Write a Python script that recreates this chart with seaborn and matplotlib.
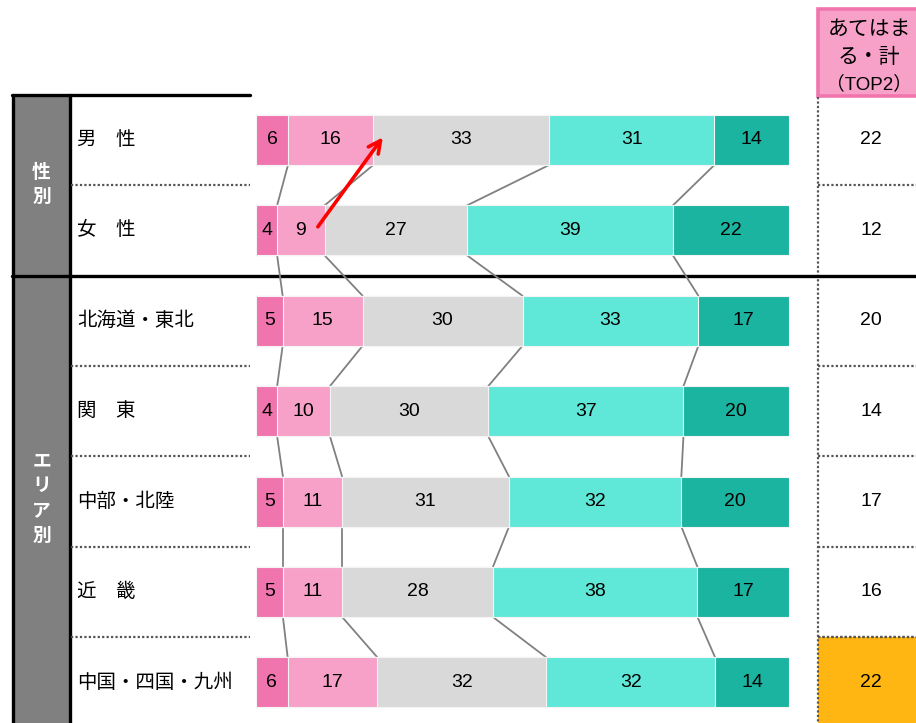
import matplotlib
matplotlib.use('Agg')
import matplotlib.pyplot as plt
from matplotlib.patches import Rectangle
import seaborn as sns
import numpy as np
import pandas as pd

# ---------------- data ----------------
categories = ['男　性', '女　性', '北海道・東北', '関　東', '中部・北陸', '近　畿', '中国・四国・九州']
groups = ['性別', 'エリア別']
group_sizes = [2, 5]
s1 = [6, 4, 5, 4, 5, 5, 6]
s2 = [16, 9, 15, 10, 11, 11, 17]
s3 = [33, 27, 30, 30, 31, 28, 32]
s4 = [31, 39, 33, 37, 32, 38, 32]
s5 = [14, 22, 17, 20, 20, 17, 14]
top2 = [22, 12, 20, 14, 17, 16, 22]
highlight = ['中国・四国・九州']
header_lines = ['あてはま', 'る・計', '（TOP2）']

# ---------------- style ----------------
sns.set_theme(style='white')
plt.rcParams['font.family'] = ['Liberation Sans', 'Noto Sans CJK JP', 'DejaVu Sans']
colors = ['#f075ae', '#f7a1c8', '#d9d9d9', '#5fe8d7', '#1ab4a0']

W, H = 916, 723
fig = plt.figure(figsize=(W / 100, H / 100), dpi=100)
bg = fig.add_axes([0, 0, 1, 1])
bg.set_xlim(0, W)
bg.set_ylim(H, 0)
bg.axis('off')

X0, X1 = 256, 789
Y0, DY = 140, 90.4


def ypix(u):
    return Y0 + DY * u


ax = fig.add_axes([X0 / W, 0, (X1 - X0) / W, 1])
ax.set_zorder(2)

vals = np.array([s1, s2, s3, s4, s5], float)
norm = vals / vals.sum(axis=0) * 100
cum = np.cumsum(norm, axis=0)
bar_h = 50 / DY

for k in range(4, -1, -1):
    df = pd.DataFrame({'cat': categories, 'v': cum[k]})
    sns.barplot(data=df, x='v', y='cat', orient='h', color=colors[k],
                width=bar_h, edgecolor='#f4f4f4', linewidth=0.8,
                saturation=1, errorbar=None, ax=ax)

n = len(categories)
ax.set_xlim(0, 100)
ax.set_ylim((H - Y0) / DY, -Y0 / DY)
ax.axis('off')

# segment labels
for k in range(5):
    for i in range(n):
        ax.text(cum[k][i] - norm[k][i] / 2, i, f'{int(vals[k][i])}',
                ha='center', va='center', fontsize=14, color='black')

# connector lines
for i in range(n - 1):
    for k in range(4):
        ax.plot([cum[k][i], cum[k][i + 1]], [i + bar_h / 2, i + 1 - bar_h / 2],
                color='#808080', lw=1.3, zorder=0.5)

# red arrow
ax.annotate('', xy=(23.8, -0.03), xytext=(11.6, 0.96),
            arrowprops=dict(arrowstyle='->', color='red', lw=2.6,
                            mutation_scale=22, shrinkA=0, shrinkB=0))

# ---------------- left table ----------------
top_y = 95
bg.add_patch(Rectangle((13, top_y), 57, H - top_y, fc='#808080', ec='none'))
bg.plot([13, 13], [top_y, H], color='black', lw=2.4)
bg.plot([70, 70], [top_y, H], color='black', lw=2.4)
bg.plot([12, 250], [top_y, top_y], color='black', lw=2.4)

start = 0
for g, size in zip(groups, group_sizes):
    y_top = top_y if start == 0 else ypix(start - 0.5)
    y_bot = min(ypix(start + size - 0.5), H)
    yc = (y_top + y_bot) / 2
    step = 25
    m = len(g)
    for j, ch in enumerate(g):
        bg.text(41.5, yc + (j - (m - 1) / 2) * step, ch, ha='center', va='center',
                fontsize=13.5, color='white', fontweight='bold')
    if start > 0:
        bg.plot([12, W], [y_top, y_top], color='black', lw=2.4, zorder=3)
    start += size

group_starts = np.cumsum([0] + group_sizes[:-1])
for i in range(1, n):
    if i in group_starts:
        continue
    yb = ypix(i - 0.5)
    bg.plot([71, 250], [yb, yb], color='#555555', lw=1.6, ls=(0, (1, 1)))
    bg.plot([818, W], [yb, yb], color='#555555', lw=1.6, ls=(0, (1, 1)))

for i, c in enumerate(categories):
    bg.text(77, ypix(i), c, ha='left', va='center', fontsize=14, color='black')

# ---------------- right column ----------------
bg.add_patch(Rectangle((818, 9), W - 818 + 2, 87, fc='#f7a1c8', ec='#f075ae', lw=2.6))
bg.text(869, 29, header_lines[0], ha='center', va='center', fontsize=15, color='black')
bg.text(869, 57, header_lines[1], ha='center', va='center', fontsize=15, color='black')
bg.text(869, 84, header_lines[2], ha='center', va='center', fontsize=13.5, color='black')

for i, (c, v) in enumerate(zip(categories, top2)):
    if c in highlight:
        yt = ypix(i - 0.5)
        bg.add_patch(Rectangle((818, yt), W - 818, H - yt, fc='#ffb612', ec='none'))
        bg.plot([818, W], [yt, yt], color='#555555', lw=1.6, ls=(0, (1, 1)))
    bg.text(871, ypix(i), f'{v}', ha='center', va='center', fontsize=14, color='black')

bg.plot([818, 818], [97, H], color='#555555', lw=1.6, ls=(0, (1, 1)))

fig.savefig('out.png', dpi=100)
